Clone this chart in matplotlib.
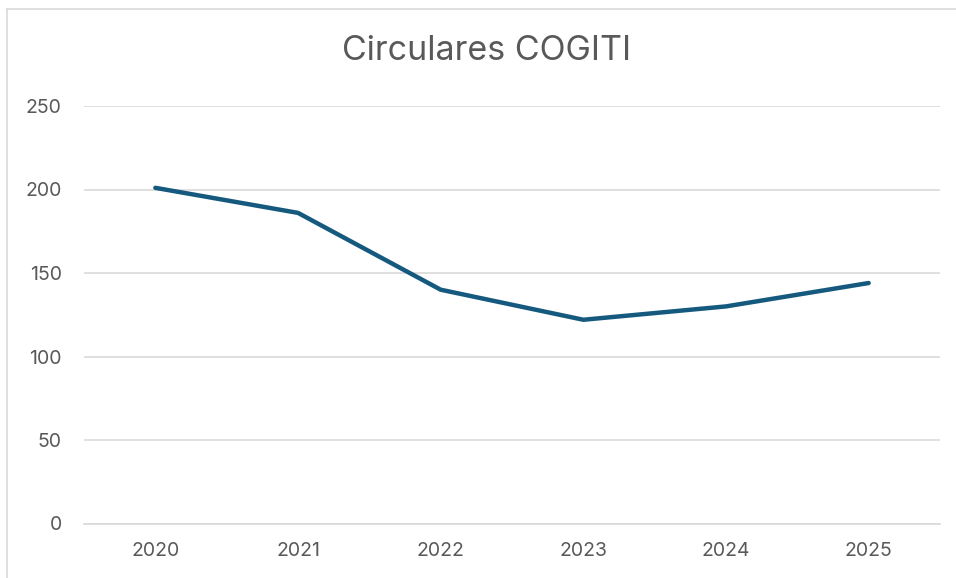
import matplotlib
matplotlib.use('Agg')
import matplotlib.pyplot as plt
from matplotlib.lines import Line2D

# -*- DATA -*-
years = ['2020', '2021', '2022', '2023', '2024', '2025']
circulares = [201, 186, 140, 122, 130, 144]
y_ticks = [0, 50, 100, 150, 200, 250]

# -*- STYLE -*-
line_colour = '#155A7E'
text_colour = '#595959'
grid_colour = '#D9D9D9'
plt.rcParams['font.family'] = ['Inter', 'DejaVu Sans']

fig = plt.figure(figsize=(9.56, 5.78), dpi=100)
fig.patch.set_facecolor('white')
ax = fig.add_axes([84 / 956, 1 - 523.5 / 578, 856 / 956, 417.5 / 578])

x = list(range(len(years)))
ax.plot(x, circulares, color=line_colour, linewidth=3.2,
        solid_capstyle='round', solid_joinstyle='round', zorder=3)

ax.set_xlim(-0.5, len(years) - 0.5)
ax.set_ylim(0, 250)
ax.set_xticks(x)
ax.set_xticklabels(years)
ax.set_yticks(y_ticks)
ax.yaxis.grid(True, color=grid_colour, linewidth=1.2)
ax.set_axisbelow(True)
for side in ['top', 'right', 'left']:
    ax.spines[side].set_visible(False)
ax.spines['bottom'].set_color(grid_colour)
ax.spines['bottom'].set_linewidth(1.2)
ax.tick_params(axis='both', length=0, labelsize=14, colors=text_colour)
ax.tick_params(axis='y', pad=16)
ax.tick_params(axis='x', pad=13)

# title
fig.text(487 / 956, 1 - 51 / 578, 'Circulares COGITI', fontsize=24.5,
         color=text_colour, ha='center', va='center')

# chart area border (left and top edges visible)
fig.add_artist(Line2D([7 / 956, 7 / 956], [0, 1 - 9 / 578],
                      color='#D9D9D9', linewidth=1.2))
fig.add_artist(Line2D([7 / 956, 1], [1 - 9 / 578, 1 - 9 / 578],
                      color='#D9D9D9', linewidth=1.2))

plt.savefig('out.png', dpi=100, facecolor='white')
